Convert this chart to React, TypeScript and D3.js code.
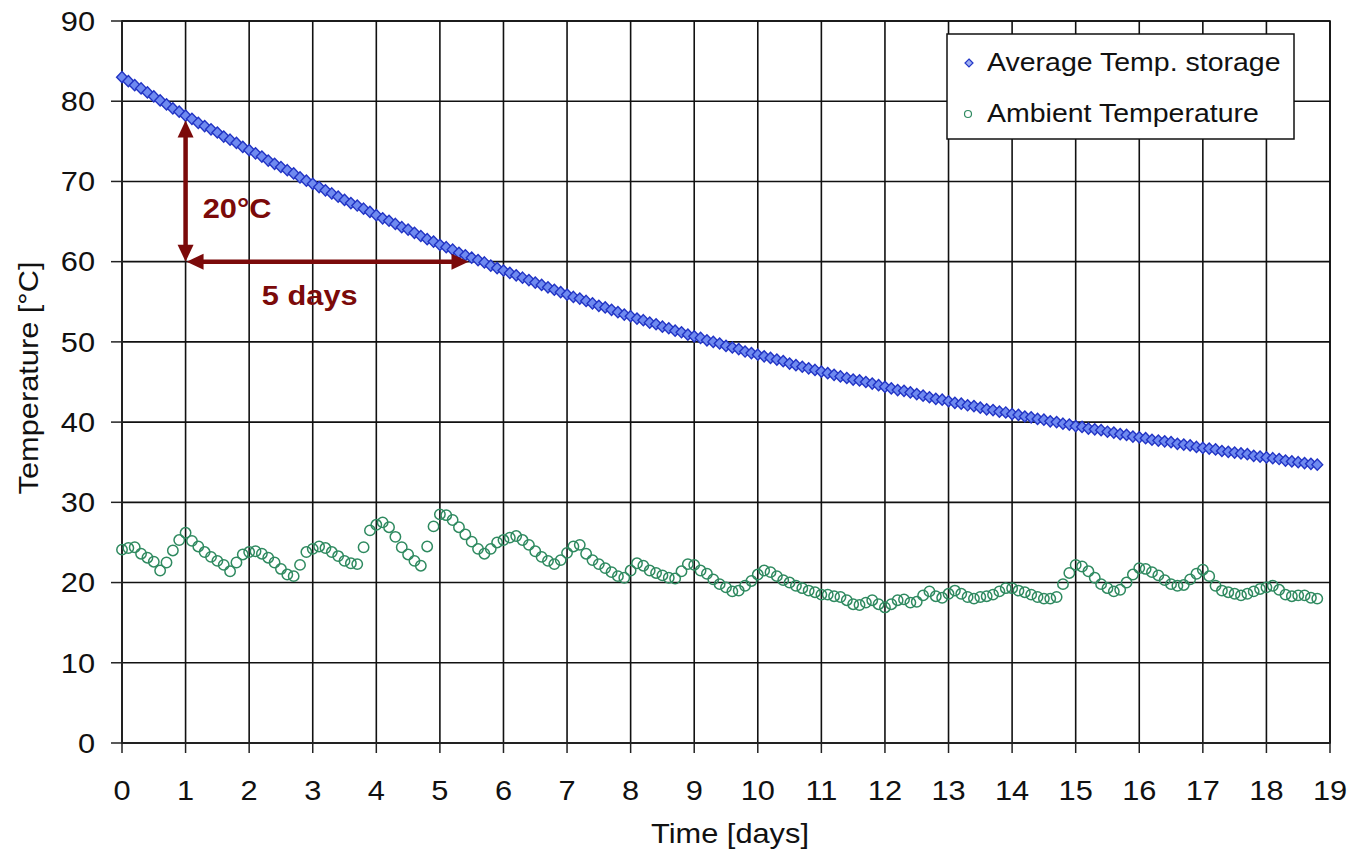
import React from 'react';
import * as d3 from 'd3';

// time axis: one reading every 0.1 day, starting at day 0
const T_START = 0;
const T_STEP = 0.1;

// Average Temp. storage [°C]
const storageTemp = [
  83.0, 82.5, 82.0, 81.6, 81.1, 80.6, 80.1, 79.6, 79.1, 78.7,
  78.2, 77.8, 77.3, 76.9, 76.5, 76.1, 75.6, 75.2, 74.8, 74.3,
  73.9, 73.5, 73.1, 72.6, 72.2, 71.8, 71.4, 71.0, 70.5, 70.1,
  69.7, 69.3, 68.9, 68.5, 68.1, 67.7, 67.3, 67.0, 66.6, 66.2,
  65.8, 65.4, 65.1, 64.7, 64.3, 64.0, 63.6, 63.2, 62.8, 62.5,
  62.1, 61.8, 61.5, 61.1, 60.8, 60.5, 60.2, 59.9, 59.5, 59.2,
  58.9, 58.6, 58.3, 58.0, 57.7, 57.4, 57.1, 56.8, 56.5, 56.2,
  55.9, 55.6, 55.4, 55.1, 54.8, 54.5, 54.3, 54.0, 53.7, 53.4,
  53.2, 52.9, 52.7, 52.4, 52.2, 51.9, 51.7, 51.4, 51.2, 50.9,
  50.7, 50.5, 50.2, 50.0, 49.8, 49.5, 49.3, 49.1, 48.8, 48.6,
  48.4, 48.2, 48.0, 47.8, 47.6, 47.3, 47.1, 46.9, 46.7, 46.5,
  46.3, 46.1, 45.9, 45.7, 45.5, 45.3, 45.2, 45.0, 44.8, 44.6,
  44.4, 44.2, 44.0, 43.9, 43.7, 43.5, 43.3, 43.1, 42.9, 42.8,
  42.6, 42.4, 42.3, 42.1, 42.0, 41.8, 41.6, 41.5, 41.3, 41.2,
  41.0, 40.9, 40.7, 40.6, 40.4, 40.3, 40.1, 40.0, 39.8, 39.7,
  39.5, 39.4, 39.2, 39.1, 39.0, 38.8, 38.7, 38.5, 38.4, 38.2,
  38.1, 38.0, 37.8, 37.7, 37.6, 37.5, 37.3, 37.2, 37.1, 36.9,
  36.8, 36.7, 36.6, 36.4, 36.3, 36.2, 36.1, 36.0, 35.8, 35.7,
  35.6, 35.5, 35.4, 35.2, 35.1, 35.0, 34.9, 34.8, 34.7,
];

// Ambient Temperature [°C]
const ambientTemp = [
  24.1, 24.3, 24.4, 23.6, 23.1, 22.6, 21.5, 22.5, 24.0, 25.3,
  26.2, 25.2, 24.5, 23.8, 23.2, 22.7, 22.2, 21.4, 22.5, 23.5,
  23.8, 23.9, 23.6, 23.1, 22.5, 21.7, 21.0, 20.8, 22.2, 23.8,
  24.2, 24.5, 24.3, 23.8, 23.3, 22.7, 22.4, 22.3, 24.4, 26.5,
  27.2, 27.5, 26.9, 25.7, 24.4, 23.5, 22.7, 22.1, 24.5, 27.0,
  28.5, 28.4, 27.8, 26.9, 26.0, 25.1, 24.2, 23.6, 24.2, 25.0,
  25.3, 25.6, 25.8, 25.3, 24.7, 23.9, 23.2, 22.7, 22.3, 22.8,
  23.7, 24.5, 24.7, 23.6, 22.8, 22.3, 21.8, 21.3, 20.8, 20.6,
  21.5, 22.4, 22.1, 21.5, 21.2, 20.9, 20.6, 20.5, 21.4, 22.3,
  22.2, 21.5, 21.1, 20.4, 19.8, 19.4, 18.9, 19.0, 19.6, 20.2,
  21.0, 21.5, 21.3, 20.8, 20.3, 20.0, 19.6, 19.3, 19.0, 18.8,
  18.5, 18.5, 18.3, 18.2, 17.8, 17.3, 17.2, 17.5, 17.8, 17.3,
  16.9, 17.3, 17.8, 17.9, 17.5, 17.6, 18.4, 18.9, 18.3, 18.1,
  18.6, 19.0, 18.6, 18.2, 18.0, 18.2, 18.3, 18.5, 18.9, 19.3,
  19.3, 19.0, 18.8, 18.5, 18.2, 18.0, 18.0, 18.2, 19.8, 21.2,
  22.2, 22.0, 21.4, 20.6, 19.8, 19.3, 18.9, 19.1, 20.0, 21.0,
  21.8, 21.7, 21.3, 20.9, 20.3, 19.8, 19.6, 19.7, 20.4, 21.1,
  21.6, 20.8, 19.6, 19.0, 18.8, 18.6, 18.4, 18.6, 18.9, 19.2,
  19.4, 19.6, 19.1, 18.5, 18.3, 18.4, 18.4, 18.1, 18.0,
];

const xTicks = d3.range(0, 20);
const yTicks = d3.range(0, 100, 10);
const seriesNames = ['Average Temp. storage', 'Ambient Temperature'];

// annotation: 20°C drop over 5 days
const arrowDay = 1;
const arrowTop = 77.6;
const arrowBase = 60;
const arrowEndDay = 5.45;
const labelDrop = '20°C';
const labelDays = '5 days';

const FONT = '"Liberation Sans", Arial, sans-serif';
const DARK_RED = '#7b0a0a';
const STRETCH = 1.14; // the original font runs wider than Arial

const width = 1364;
const height = 855;
const margin = { top: 21, right: 34, bottom: 112, left: 122 };
const innerWidth = width - margin.left - margin.right;
const innerHeight = height - margin.top - margin.bottom;

// text drawn at (x, y), widened along its own baseline
const Label = ({ x, y, rotate = 0, anchor = 'start', size = 27, bold = false, fill = '#111', dy, children }: any) => (
  <g transform={`translate(${x},${y}) rotate(${rotate}) scale(${STRETCH},1)`}>
    <text x={0} y={0} dy={dy} textAnchor={anchor} fontSize={size} fontWeight={bold ? 'bold' : 'normal'} fill={fill}>
      {children}
    </text>
  </g>
);

const Arrowhead = ({ x, y, dir }: { x: number; y: number; dir: 'up' | 'down' | 'left' | 'right' }) => {
  const len = 17;
  const half = 8;
  let pts: [number, number][];
  if (dir === 'up') pts = [[x, y], [x - half, y + len], [x + half, y + len]];
  else if (dir === 'down') pts = [[x, y], [x - half, y - len], [x + half, y - len]];
  else if (dir === 'left') pts = [[x, y], [x + len, y - half], [x + len, y + half]];
  else pts = [[x, y], [x - len, y - half], [x - len, y + half]];
  return <polygon points={pts.map(p => p.join(',')).join(' ')} fill={DARK_RED} />;
};

const App = () => {
  const x = d3.scaleLinear().domain([0, 19]).range([0, innerWidth]);
  const y = d3.scaleLinear().domain([0, 90]).range([innerHeight, 0]);

  const storage = storageTemp.map((v, i) => ({ t: T_START + i * T_STEP, v }));
  const ambient = ambientTemp.map((v, i) => ({ t: T_START + i * T_STEP, v }));

  const diamond = 'M0,-5.6L5.4,0L0,5.6L-5.4,0Z';

  const ax = x(arrowDay);
  const ayTop = y(arrowTop);
  const ayBase = y(arrowBase);
  const axEnd = x(arrowEndDay);

  return (
    <div style={{ position: 'absolute', left: 0, top: 0 }}>
      <svg width={width} height={height} style={{ display: 'block', background: '#fff' }} fontFamily={FONT}>
        <g transform={`translate(${margin.left},${margin.top})`}>
          {/* grid */}
          {yTicks.map(t => (
            <line key={'gy' + t} x1={0} x2={innerWidth} y1={y(t)} y2={y(t)} stroke="#111" strokeWidth={1.6} />
          ))}
          {xTicks.map(t => (
            <line key={'gx' + t} x1={x(t)} x2={x(t)} y1={0} y2={innerHeight} stroke="#111" strokeWidth={1.6} />
          ))}
          <rect x={0} y={0} width={innerWidth} height={innerHeight} fill="none" stroke="#111" strokeWidth={1.6} />
          {/* axes */}
          <line x1={0} x2={0} y1={0} y2={innerHeight} stroke="#222" strokeWidth={2} />
          <line x1={0} x2={innerWidth} y1={innerHeight} y2={innerHeight} stroke="#222" strokeWidth={2} />
          {yTicks.map(t => (
            <g key={'ty' + t}>
              <line x1={-11} x2={0} y1={y(t)} y2={y(t)} stroke="#222" strokeWidth={1.5} />
              <Label x={-27} y={y(t)} dy="0.36em" anchor="end">{t}</Label>
            </g>
          ))}
          {xTicks.map(t => (
            <g key={'tx' + t}>
              <line x1={x(t)} x2={x(t)} y1={innerHeight} y2={innerHeight + 10} stroke="#222" strokeWidth={1.5} />
              <Label x={x(t)} y={innerHeight + 57} anchor="middle">{t}</Label>
            </g>
          ))}

          {/* series */}
          {ambient.map((d, i) => (
            <circle key={'a' + i} cx={x(d.t)} cy={y(d.v)} r={5.2} fill="none" stroke="#2f8a60" strokeWidth={1.5} />
          ))}
          {storage.map((d, i) => (
            <path key={'s' + i} d={diamond} transform={`translate(${x(d.t)},${y(d.v)})`}
              fill="#6f8af0" stroke="#2234c4" strokeWidth={1.4} />
          ))}

          {/* annotation */}
          <line x1={ax} x2={ax} y1={ayTop + 14} y2={ayBase - 14} stroke={DARK_RED} strokeWidth={4.5} />
          <Arrowhead x={ax} y={ayTop} dir="up" />
          <Arrowhead x={ax} y={ayBase} dir="down" />
          <line x1={ax + 14} x2={axEnd - 14} y1={ayBase} y2={ayBase} stroke={DARK_RED} strokeWidth={4.5} />
          <Arrowhead x={ax + 1} y={ayBase} dir="left" />
          <Arrowhead x={axEnd} y={ayBase} dir="right" />
          <Label x={x(1.27)} y={y(65.4)} bold fill={DARK_RED}>{labelDrop}</Label>
          <Label x={x(2.2)} y={y(54.6)} bold fill={DARK_RED}>{labelDays}</Label>

          {/* legend */}
          <g transform={`translate(${947 - margin.left},${34 - margin.top})`}>
            <rect x={0} y={0} width={347} height={105} fill="#fff" stroke="#111" strokeWidth={1.5} />
            <path d="M0,-4L4,0L0,4L-4,0Z" transform="translate(22,29)" fill="#9fb0f2" stroke="#2538c8" strokeWidth={1.2} />
            <Label x={40} y={37} size={25}>{seriesNames[0]}</Label>
            <circle cx={21} cy={80} r={3.5} fill="#fff" stroke="#2f8a60" strokeWidth={1.2} />
            <Label x={40} y={88} size={25}>{seriesNames[1]}</Label>
          </g>
        </g>

        {/* axis titles */}
        <Label x={margin.left + innerWidth / 2 + 4} y={843} anchor="middle">Time [days]</Label>
        <Label x={38} y={margin.top + innerHeight / 2 - 4} rotate={-90} anchor="middle">Temperature [°C]</Label>
      </svg>
    </div>
  );
};

export default App;
